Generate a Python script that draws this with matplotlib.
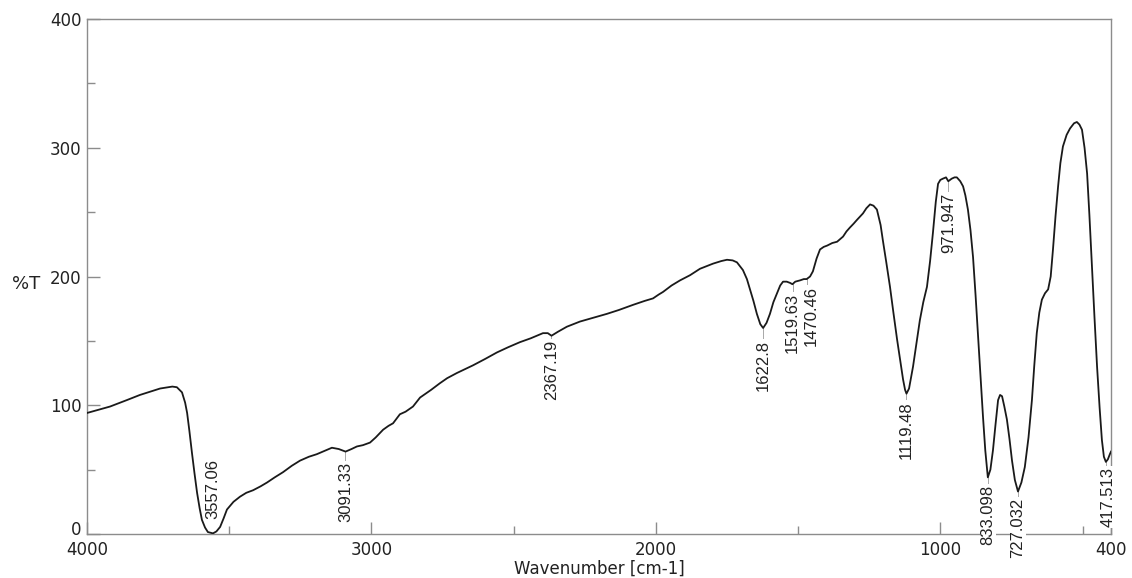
import numpy as np
import matplotlib
matplotlib.use("Agg")
import matplotlib.pyplot as plt
from matplotlib.ticker import MultipleLocator, FixedLocator, FuncFormatter

# IR spectrum, wavenumber [cm-1] vs %T
wavenumber = [4000, 3919, 3860, 3814, 3743, 3700, 3684, 3666, 3655, 3648, 3640, 3631,
              3622, 3613, 3604, 3596, 3585, 3575, 3557, 3545, 3532, 3520, 3508, 3485,
              3462, 3440, 3416, 3390, 3367, 3340, 3311, 3280, 3251, 3220, 3192, 3160,
              3139, 3115, 3091, 3070, 3051, 3030, 3005, 2985, 2959, 2940, 2924, 2900,
              2880, 2854, 2829, 2790, 2760, 2734, 2700, 2643, 2600, 2559, 2520, 2478,
              2440, 2397, 2380, 2367, 2345, 2313, 2290, 2267, 2220, 2172, 2130, 2080,
              2040, 2010, 1990, 1975, 1945, 1915, 1880, 1845, 1799, 1770, 1750, 1730,
              1715, 1694, 1680, 1669, 1657, 1645, 1633, 1623, 1611, 1599, 1587, 1574,
              1563, 1553, 1540, 1528, 1520, 1510, 1493, 1480, 1470, 1458, 1448, 1435,
              1423, 1410, 1398, 1380, 1363, 1342, 1330, 1318, 1305, 1293, 1272, 1260,
              1247, 1235, 1223, 1210, 1202, 1190, 1177, 1165, 1152, 1140, 1131, 1124,
              1119, 1110, 1096, 1084, 1072, 1060, 1047, 1036, 1026, 1016, 1008, 1000,
              991, 980, 972, 960, 950, 942, 930, 920, 912, 903, 894, 885,
              876, 868, 859, 850, 842, 833, 824, 815, 806, 797, 790, 783,
              775, 766, 757, 748, 738, 727, 715, 703, 690, 678, 670, 661,
              652, 643, 632, 621, 612, 604, 595, 586, 578, 569, 556, 544,
              530, 520, 511, 502, 493, 484, 476, 467, 458, 449, 440, 432,
              425, 418, 411, 404, 400]
transmittance = [94, 99, 104, 108, 113, 114.5, 114, 110, 102, 94, 80, 63,
                 47, 32, 20, 11, 5, 1.5, 0.5, 2, 5.5, 12, 19, 25,
                 29, 32, 34, 37, 40, 44, 48, 53, 57, 60, 62, 65,
                 67, 66, 64, 66, 68, 69, 71, 75, 81, 84, 86, 93,
                 95, 99, 106, 112, 117, 121, 125, 131, 136, 141, 145, 149,
                 152, 156, 156, 154, 157, 161, 163, 165, 168, 171, 174, 178,
                 181, 183, 186, 188, 193, 197, 201, 206, 210, 212, 213, 212.5,
                 211, 205, 198, 190, 181, 171, 163, 160, 164, 171, 180, 187,
                 193, 196, 196, 195, 194, 196, 197, 198, 198, 200, 204, 214,
                 221, 223, 224, 226, 227, 231, 235, 238, 241, 244, 249, 253,
                 256, 255, 252, 240, 228, 211, 192, 172, 151, 133, 120, 112,
                 109, 113, 130, 148, 166, 180, 192, 212, 234, 258, 272, 275,
                 276, 277, 274, 276, 277, 277, 274, 270, 263, 252, 236, 215,
                 185, 156, 122, 91, 65, 44, 50, 65, 85, 104, 108, 107,
                 99, 89, 74, 57, 42, 33, 40, 52, 75, 104, 130, 156,
                 172, 182, 187, 190, 200, 221, 247, 270, 288, 301, 310, 315,
                 319, 320, 318, 314, 300, 280, 248, 208, 168, 130, 98, 73,
                 60, 56, 58, 62, 64]

# picked peaks
peak_labels = ["3557.06", "3091.33", "2367.19", "1622.8", "1519.63", "1470.46",
               "1119.48", "971.947", "833.098", "727.032", "417.513"]

# label placement: gap between curve and top of the label, and x nudge
label_gap = [-58, 8, 3, 9, 7, 5, 6, 9, 6, 5, 4]
label_dx = [0, 0, 0, 0, 0, -18, 0, 0, 0, 0, -9]

wn = np.array(wavenumber, dtype=float)
tr = np.array(transmittance, dtype=float)

W, H = 1132, 578
fig = plt.figure(figsize=(W / 100, H / 100), dpi=100)
ax = fig.add_axes([87 / W, 44 / H, 1024 / W, 515 / H])

ax.plot(wn, tr, color="#1a1a1a", lw=1.3, zorder=3)

ax.set_xlim(4000, 400)
ax.set_ylim(0, 400)

for sp in ax.spines.values():
    sp.set_color("#8c8c8c")
    sp.set_linewidth(1.0)

ax.xaxis.set_major_locator(FixedLocator([4000, 3000, 2000, 1000, 400]))
ax.xaxis.set_minor_locator(FixedLocator([3500, 2500, 1500, 500]))
ax.yaxis.set_major_locator(MultipleLocator(100))
ax.yaxis.set_minor_locator(MultipleLocator(50))
# the "0" is drawn separately, slightly lifted so it clears the "4000"
ax.yaxis.set_major_formatter(FuncFormatter(lambda v, p: "" if v == 0 else "%d" % v))
ax.tick_params(which="both", direction="in", color="#8c8c8c", width=1.0,
               labelsize=12, labelcolor="#222222", top=False, right=False)
ax.tick_params(which="major", length=9)
ax.tick_params(which="minor", length=6)
ax.tick_params(axis="x", pad=5)
ax.tick_params(axis="y", pad=4)
ax.set_xticklabels(["4000", "3000", "2000", "1000", "400"])
ax.annotate("0", xy=(0, 0), xycoords="axes fraction", xytext=(-4, 3),
            textcoords="offset points", ha="right", va="center",
            fontsize=12, color="#222222")

ax.set_xlabel("Wavenumber [cm-1]", fontsize=12, color="#222222", va="bottom")
ax.xaxis.set_label_coords(0.5, -44 / 515)
fig.text(12 / W, 1 - 284 / H, "%T", fontsize=13, color="#222222", va="center", ha="left")

asc_wn = wn[::-1]
asc_tr = tr[::-1]
for lab, gap, dx in zip(peak_labels, label_gap, label_dx):
    x = float(lab)
    yc = np.interp(x, asc_wn, asc_tr)
    top = yc - gap
    if gap > 0:
        ax.plot([x, x], [yc, top], color="#9a9a9a", lw=0.6, zorder=2)
    # white box cuts the axis line, curve stays on top
    ax.text(x + dx, top, lab, rotation=90, ha="center", va="top",
            family="Liberation Sans", fontsize=12,
            color="#222222", zorder=2.7,
            bbox=dict(facecolor="white", edgecolor="none", pad=0.5))

fig.savefig("out.png", dpi=100)
